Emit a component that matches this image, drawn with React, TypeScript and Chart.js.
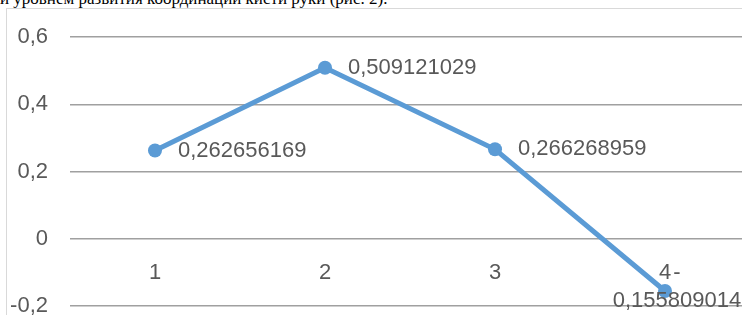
import React, { useEffect, useRef } from "react";
import { Chart, registerables } from "chart.js";

Chart.register(...registerables);

const headingText = "и уровнем развития координации кисти руки (рис. 2).";
const categories = ["1", "2", "3", "4"];
const seriesValues = [0.262656169, 0.509121029, 0.266268959, -0.155809014];
const yTickValues = [-0.2, 0, 0.2, 0.4, 0.6];
const yTickLabels = ["-0,2", "0", "0,2", "0,4", "0,6"];

const TEXT_COLOR = "#595959";
const FONT_FAMILY = "'Liberation Sans', Arial, sans-serif";
const FONT_SIZE = 22;

const formatValue = (v: number) => String(v).replace(".", ",");

const dataLabelPlugin = {
  id: "dataLabels",
  afterDatasetsDraw(chart: any) {
    const ctx = chart.ctx;
    const meta = chart.getDatasetMeta(0);
    ctx.save();
    ctx.font = `${FONT_SIZE}px ${FONT_FAMILY}`;
    ctx.fillStyle = TEXT_COLOR;
    meta.data.forEach((pt: any, i: number) => {
      const text = formatValue(seriesValues[i]);
      const w = ctx.measureText(text).width;
      const x = pt.x + 23;
      if (x + w > chart.width - 10 && text.startsWith("-")) {
        ctx.textAlign = "center";
        ctx.textBaseline = "middle";
        ctx.fillText("-", pt.x + 12, pt.y - 18);
        ctx.fillText(text.slice(1), pt.x + 12, pt.y + 10);
      } else {
        ctx.textAlign = "left";
        ctx.textBaseline = "middle";
        ctx.fillText(text, x, pt.y);
      }
    });
    ctx.restore();
  },
};

export default function App() {
  const canvasRef = useRef<HTMLCanvasElement | null>(null);

  useEffect(() => {
    if (!canvasRef.current) return;
    const chart = new Chart(canvasRef.current, {
      type: "line",
      data: {
        labels: categories,
        datasets: [
          {
            data: seriesValues,
            borderColor: "#5b9bd5",
            backgroundColor: "#5b9bd5",
            borderWidth: 5,
            pointRadius: 7,
            pointBorderWidth: 0,
            pointBackgroundColor: "#5b9bd5",
            tension: 0,
          },
        ],
      },
      options: {
        animation: false,
        responsive: false,
        maintainAspectRatio: false,
        layout: { padding: { left: 0, right: 27, top: 19, bottom: 12 } },
        plugins: { legend: { display: false }, tooltip: { enabled: false } },
        scales: {
          x: {
            type: "category",
            position: { y: 0 } as any,
            offset: true,
            grid: { display: false, drawTicks: false },
            border: { display: false },
            ticks: {
              color: TEXT_COLOR,
              font: { family: FONT_FAMILY, size: FONT_SIZE },
              padding: 21,
              maxRotation: 0,
            },
          },
          y: {
            min: -0.2,
            max: 0.6,
            grid: { color: "#a0a0a0", lineWidth: 1.5, drawTicks: false },
            border: { display: false },
            afterBuildTicks: (scale: any) => {
              scale.ticks = yTickValues.map((v) => ({ value: v }));
            },
            afterFit: (scale: any) => {
              scale.width = 63;
            },
            ticks: {
              color: TEXT_COLOR,
              font: { family: FONT_FAMILY, size: FONT_SIZE },
              padding: 22,
              callback: (v: any) => {
                const idx = yTickValues.findIndex((t) => Math.abs(t - Number(v)) < 1e-9);
                return idx >= 0 ? yTickLabels[idx] : "";
              },
            },
          },
        },
      },
      plugins: [dataLabelPlugin],
    });
    return () => chart.destroy();
  }, []);

  return (
    <div
      style={{
        position: "absolute",
        left: 0,
        top: 0,
        width: 742,
        height: 315,
        overflow: "hidden",
        background: "#ffffff",
      }}
    >
      <div
        style={{
          position: "absolute",
          left: 0,
          top: -11,
          fontFamily: "'Liberation Serif', 'Times New Roman', serif",
          fontSize: 17,
          lineHeight: "20px",
          whiteSpace: "nowrap",
          color: "#000",
        }}
      >
        {headingText}
      </div>
      <div
        style={{
          position: "absolute",
          left: 6,
          top: 8,
          width: 780,
          height: 340,
          border: "1px solid #d9d9d9",
        }}
      />
      <canvas
        ref={canvasRef}
        width={770}
        height={339}
        style={{ position: "absolute", left: 7, top: 2, display: "block", width: 770, height: 339 }}
      />
    </div>
  );
}
